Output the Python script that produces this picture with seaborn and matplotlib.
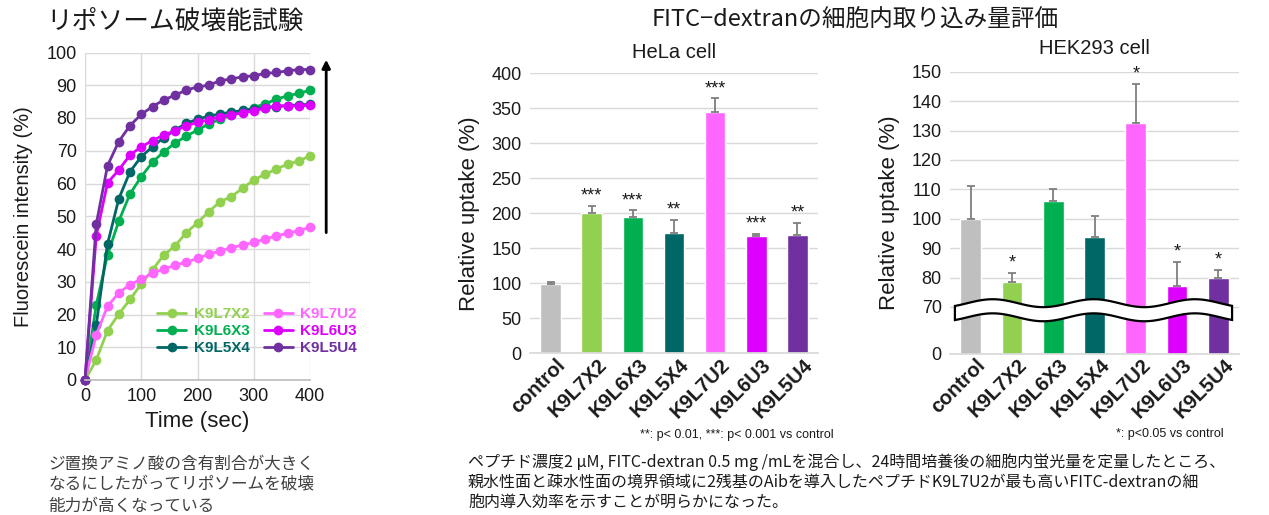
import numpy as np
import pandas as pd
import matplotlib
matplotlib.use("Agg")
import matplotlib.pyplot as plt
import matplotlib.transforms as mtransforms
from matplotlib.patches import Polygon
import seaborn as sns

# ---------------- data ----------------
time_sec = list(range(0, 401, 20))
k9l7x2 = [0, 6.1, 15.1, 20.1, 24.6, 29.3, 33.6, 38.2, 40.9, 45.0, 48.0,
          51.4, 54.4, 56.0, 58.5, 61.1, 62.8, 64.4, 65.9, 66.8, 68.5]
k9l6x3 = [0, 22.9, 38.2, 48.5, 56.8, 62.1, 66.5, 69.7, 72.3, 74.5, 76.3,
          78.2, 79.6, 80.9, 81.9, 83.2, 84.3, 85.7, 86.8, 87.5, 88.5]
k9l5x4 = [0, 16.8, 41.5, 55.3, 63.6, 68.2, 71.2, 74.0, 76.3, 78.4, 79.6,
          80.6, 81.2, 81.8, 82.3, 82.8, 83.2, 83.5, 83.8, 84.0, 84.2]
k9l7u2 = [0, 13.8, 22.5, 26.6, 29.1, 30.8, 32.6, 33.9, 35.0, 36.0, 37.1,
          38.4, 39.4, 40.4, 41.2, 42.0, 43.0, 44.0, 44.8, 45.6, 46.6]
k9l6u3 = [0, 44.0, 60.2, 64.1, 68.7, 71.2, 73.1, 74.8, 76.1, 77.6, 78.7,
          79.4, 80.4, 80.9, 81.6, 82.2, 83.0, 83.7, 83.7, 83.7, 83.9]
k9l5u4 = [0, 47.6, 65.4, 72.8, 77.7, 81.1, 83.5, 85.5, 87.0, 88.5, 89.5,
          90.0, 91.4, 91.9, 92.6, 92.9, 93.6, 93.9, 94.4, 94.8, 94.8]

peptides = ["K9L7X2", "K9L6X3", "K9L5X4", "K9L7U2", "K9L6U3", "K9L5U4"]
release = [k9l7x2, k9l6x3, k9l5x4, k9l7u2, k9l6u3, k9l5u4]

bar_labels = ["control"] + peptides
hela_mean = [99, 200, 195, 172, 344, 168, 169]
hela_err = [3, 10, 9, 18, 20, 3, 17]
hela_sig = ["", "***", "***", "**", "***", "***", "**"]
hek_mean = [100, 78.5, 105.9, 93.8, 132.5, 77.1, 79.9]
hek_err = [11, 3, 4.3, 7, 13.3, 8.2, 2.8]
hek_sig = ["", "*", "", "", "*", "*", "*"]

colors = ["#bfbfbf", "#92d050", "#00b050", "#006666",
          "#ff66ff", "#dd00ff", "#7030a0"]
palette = dict(zip(bar_labels, colors))

# ---------------- style ----------------
sns.set_theme(style="white")
plt.rcParams["font.family"] = ["Liberation Sans", "Noto Sans CJK JP", "DejaVu Sans"]
plt.rcParams["axes.unicode_minus"] = False
JP = ["Noto Sans CJK JP", "Liberation Sans", "DejaVu Sans"]
GRID = "#d9d9d9"
TXT = "#1a1a1a"

W, H = 1269, 515
fig = plt.figure(figsize=(W / 100, H / 100), dpi=100)


def px_axes(x0, x1, ytop, ybot):
    return fig.add_axes([x0 / W, 1 - ybot / H, (x1 - x0) / W, (ybot - ytop) / H])


# ---------------- liposome leakage ----------------
ax1 = px_axes(85, 310, 52.5, 380)
df = pd.DataFrame({
    "time": time_sec * len(peptides),
    "value": [v for s in release for v in s],
    "peptide": [p for p in peptides for _ in time_sec],
})
for name in peptides:
    sub = df[df["peptide"] == name]
    sns.lineplot(data=sub, x="time", y="value", color=palette[name],
                 marker="o", markersize=7, markeredgewidth=0, linewidth=2,
                 label=name, ax=ax1, clip_on=False)
ax1.set_xlim(0, 400)
ax1.set_ylim(0, 100)
ax1.set_xticks(range(0, 401, 100))
ax1.set_yticks(range(0, 101, 10))
ax1.grid(True, color=GRID, linewidth=1)
for s in ax1.spines.values():
    s.set_visible(False)
ax1.spines["bottom"].set_visible(True)
ax1.spines["bottom"].set_color("#bfbfbf")
ax1.tick_params(axis="both", labelsize=13, colors=TXT, length=0, pad=6)
ax1.set_xlabel("Time (sec)", fontsize=16, color=TXT, labelpad=4)
ax1.set_ylabel("Fluorescein intensity (%)", fontsize=14.5, color=TXT, labelpad=10)
leg = ax1.legend(ncol=2, loc="upper left", bbox_to_anchor=(0.26, 0.265),
                 frameon=False, handlelength=1.9, handletextpad=0.5,
                 columnspacing=0.9, labelspacing=0.2,
                 prop={"weight": "bold", "size": 11})
for t, name in zip(leg.get_texts(), peptides):
    t.set_color(palette[name])
ax1.annotate("", xy=(1.072, 97.8), xytext=(1.072, 45),
             xycoords=ax1.get_yaxis_transform(),
             textcoords=ax1.get_yaxis_transform(),
             arrowprops=dict(arrowstyle="-|>", color="black", lw=2,
                             mutation_scale=12, shrinkA=0, shrinkB=0),
             annotation_clip=False)
fig.text(175 / W, 1 - 22 / H, "リポソーム破壊能試験", family=JP, fontsize=18.5,
         ha="center", va="center", color=TXT)


# ---------------- uptake bars ----------------
def draw_bars(ax, means, errs, sigs):
    sns.barplot(x=bar_labels, y=means, hue=bar_labels, palette=palette,
                legend=False, width=0.5, saturation=1, ax=ax, zorder=2)
    ax.errorbar(range(len(means)), means, yerr=[[0] * len(errs), errs],
                fmt="none", ecolor="#7f7f7f", elinewidth=1.3, capsize=3,
                capthick=1.3, zorder=3)
    for i, (m, e, s) in enumerate(zip(means, errs, sigs)):
        if s:
            ax.annotate(s, (i, m + e), xytext=(0, 1), textcoords="offset points",
                        ha="center", va="bottom", fontsize=13, color=TXT)
    ax.set_xlim(-0.5, len(means) - 0.5)
    ax.grid(True, axis="y", color=GRID, linewidth=1, zorder=0)
    ax.set_axisbelow(True)
    for s in ax.spines.values():
        s.set_visible(False)
    ax.spines["bottom"].set_visible(True)
    ax.spines["bottom"].set_color(GRID)
    ax.tick_params(axis="y", labelsize=13, colors=TXT, length=0, pad=6)
    ax.tick_params(axis="x", length=0, pad=6)
    offset = mtransforms.ScaledTranslation(12 / 100, 0, fig.dpi_scale_trans)
    for lab in ax.get_xticklabels():
        lab.set_rotation(45)
        lab.set_ha("right")
        lab.set_va("center")
        lab.set_rotation_mode("anchor")
        lab.set_fontsize(14.5)
        lab.set_fontweight("bold")
        lab.set_color(TXT)
        lab.set_transform(lab.get_transform() + offset)
    ax.set_xlabel("")
    ax.set_ylabel("Relative uptake (%)", fontsize=16, color=TXT, labelpad=8)


ax2 = px_axes(530, 818, 73.3, 353.3)
draw_bars(ax2, hela_mean, hela_err, hela_sig)
ax2.set_ylim(0, 400)
ax2.set_yticks(range(0, 401, 50))
ax2.set_title("HeLa cell", fontsize=14.5, color=TXT, pad=11)

ax3 = px_axes(950, 1239, 71.7, 354)
draw_bars(ax3, hek_mean, hek_err, hek_sig)


def fwd(v):
    v = np.asarray(v, dtype=float)
    return np.where(v >= 70, v, 54 + v * 16 / 70)


def inv(y):
    y = np.asarray(y, dtype=float)
    return np.where(y >= 70, y, (y - 54) * 70 / 16)


ax3.set_yscale("function", functions=(fwd, inv))
ax3.set_ylim(0, 150)
ax3.set_yticks([0] + list(range(70, 151, 10)))
ax3.set_yticklabels(["0"] + [str(v) for v in range(70, 151, 10)])
ax3.set_title("HEK293 cell", fontsize=14.5, color=TXT, pad=13)

# wavy axis-break band across the HEK293 panel
xs = np.linspace(0.017, 0.976, 200)
amp, period = 0.014, 0.35
wave = amp * np.sin(2 * np.pi * (xs - 0.06) / period)
top = 0.180 + wave
bot = 0.130 + wave
band = np.vstack([np.column_stack([xs, top]), np.column_stack([xs[::-1], bot[::-1]])])
ax3.add_patch(Polygon(band, closed=True, transform=ax3.transAxes,
                      facecolor="white", edgecolor="black", lw=1.6,
                      zorder=5, clip_on=False))

# ---------------- figure texts ----------------
fig.text(855 / W, 1 - 20 / H, "FITC−dextranの細胞内取り込み量評価", family=JP,
         fontsize=17, ha="center", va="center", color=TXT)
fig.text(834 / W, 1 - 435 / H, "**: p< 0.01, ***: p< 0.001 vs control",
         fontsize=9, ha="right", va="center", color=TXT)
fig.text(1224 / W, 1 - 434 / H, "*: p<0.05 vs control",
         fontsize=9, ha="right", va="center", color=TXT)
fig.text(48 / W, 1 - 456 / H,
         "ジ置換アミノ酸の含有割合が大きく\nなるにしたがってリポソームを破壊\n能力が高くなっている",
         family=JP, fontsize=12, ha="left", va="top", color="#404040",
         linespacing=1.3)
fig.text(468 / W, 1 - 453 / H,
         "ペプチド濃度2 μM, FITC-dextran 0.5 mg /mLを混合し、24時間培養後の細胞内蛍光量を定量したところ、\n"
         "親水性面と疎水性面の境界領域に2残基のAibを導入したペプチドK9L7U2が最も高いFITC-dextranの細\n"
         "胞内導入効率を示すことが明らかになった。",
         family=JP, fontsize=11.5, ha="left", va="top", color=TXT,
         linespacing=1.25)

fig.savefig("out.png", dpi=100)
